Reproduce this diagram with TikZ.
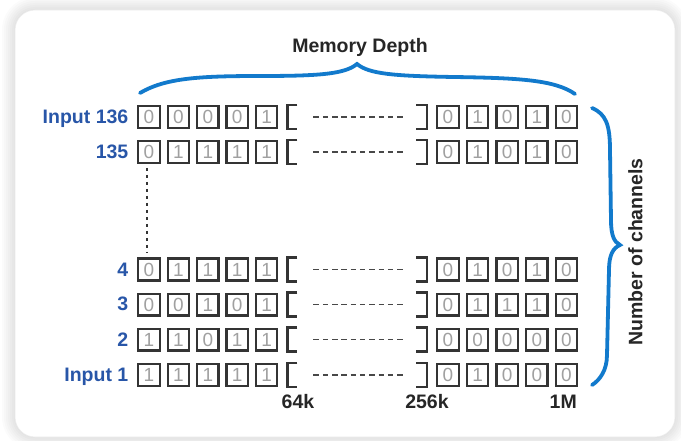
\documentclass[tikz,border=0pt]{standalone}
\usepackage{fontspec}
\setmainfont{Liberation Sans}
\definecolor{braceblue}{RGB}{18,122,204}
\definecolor{labelblue}{RGB}{40,86,168}
\definecolor{boxgray}{RGB}{52,52,52}
\definecolor{bitgray}{RGB}{160,160,160}
\tikzset{
  bitbox/.style={draw=boxgray, line width=2.2pt, minimum width=21.5pt, minimum height=21.8pt,
    inner sep=0pt, text=bitgray, font=\fontsize{19}{20}\selectfont},
  rowlabel/.style={anchor=base east, inner sep=0pt, text=labelblue,
    font=\fontsize{19.5}{22}\selectfont\bfseries},
  axislabel/.style={inner sep=0pt, text=black!85, font=\fontsize{19.5}{22}\selectfont\bfseries},
  bracket/.style={draw=boxgray, line width=2.2pt},
  gapline/.style={draw=boxgray!90, line width=1.9pt, dash pattern=on 5.5pt off 3.8pt},
  dotline/.style={draw=boxgray, line width=1.6pt, dash pattern=on 3.5pt off 3.5pt},
  curly/.style={draw=braceblue, line width=3.8pt, line cap=round}
}
\begin{document}
\begin{tikzpicture}[x=1pt, y=1pt]
    \useasboundingbox (0,0) rectangle (681,440);
    \fill[white] (0,0) rectangle (681,440);
    % soft shadow and panel
    \foreach \s in {1,3,...,13}
        \fill[black, opacity=0.014, rounded corners=20+\s] (15-\s,3-\s) rectangle (675+\s,430+\s);
    \fill[white, draw=black!8, line width=0.6pt, rounded corners=20] (15,3) rectangle (675,430);
    % channel rows
    \foreach \r/\y/\lab/\lbits/\rbits in {
        136/323/Input 136/{0,0,0,0,1}/{0,1,0,1,0},
        135/288/135/{0,1,1,1,1}/{0,1,0,1,0},
        4/170.5/4/{0,1,1,1,1}/{0,1,0,1,0},
        3/135.5/3/{0,0,1,0,1}/{0,1,1,1,0},
        2/100.5/2/{1,1,0,1,1}/{0,0,0,0,0},
        1/65/Input 1/{1,1,1,1,1}/{0,1,0,0,0}}{
        \node[rowlabel] (lab-\r) at (128.5,\y-6.5) {\lab};
        \foreach \b [count=\i] in \lbits
            \node[bitbox] (L-\r-\i) at ({149+29.4*(\i-1)},\y) {\b};
        \foreach \b [count=\i] in \rbits
            \node[bitbox] (R-\r-\i) at ({448+29.6*(\i-1)},\y) {\b};
        \draw[bracket] ([xshift=19]L-\r-5.north east) -| ([xshift=9]L-\r-5.south east)
            -- ([xshift=19]L-\r-5.south east);
        \draw[bracket] ([xshift=-20]R-\r-1.north west) -| ([xshift=-9.5]R-\r-1.south west)
            -- ([xshift=-20]R-\r-1.south west);
        \draw[gapline] ([xshift=35]L-\r-5.east) -- ([xshift=-32]R-\r-1.west);
    }
    \draw[dotline] ([xshift=-2, yshift=-4]L-135-1.south) -- ([xshift=-2, yshift=4]L-4-1.north);
    % depth marks
    \node[axislabel, anchor=base] (k64) at (298,31.5) {64k};
    \node[axislabel, anchor=base] (k256) at (427,31.5) {256k};
    \node[axislabel, anchor=base east] (m1) at (577,31.5) {1M};
    % memory depth brace
    \node[axislabel, anchor=base] (depth) at (360,387) {Memory Depth};
    \draw[curly] (140,347) .. controls (165,362) and (200,364) .. (260,364)
        .. controls (320,364) and (345,366) .. (357,376)
        .. controls (369,366) and (394,364) .. (454,363)
        .. controls (520,362) and (555,360) .. (575,346);
    % channel brace
    \node[axislabel, rotate=90] (chan) at (635.5,188) {Number of channels};
    \draw[curly] (592,332) .. controls (606,326) and (610,315) .. (610,290)
        -- (611,220) .. controls (611,205) and (614,198) .. (620,195)
        .. controls (613,192) and (609,185) .. (609,170)
        -- (607,85) .. controls (607,70) and (600,60) .. (592,55);
\end{tikzpicture}
\end{document}
